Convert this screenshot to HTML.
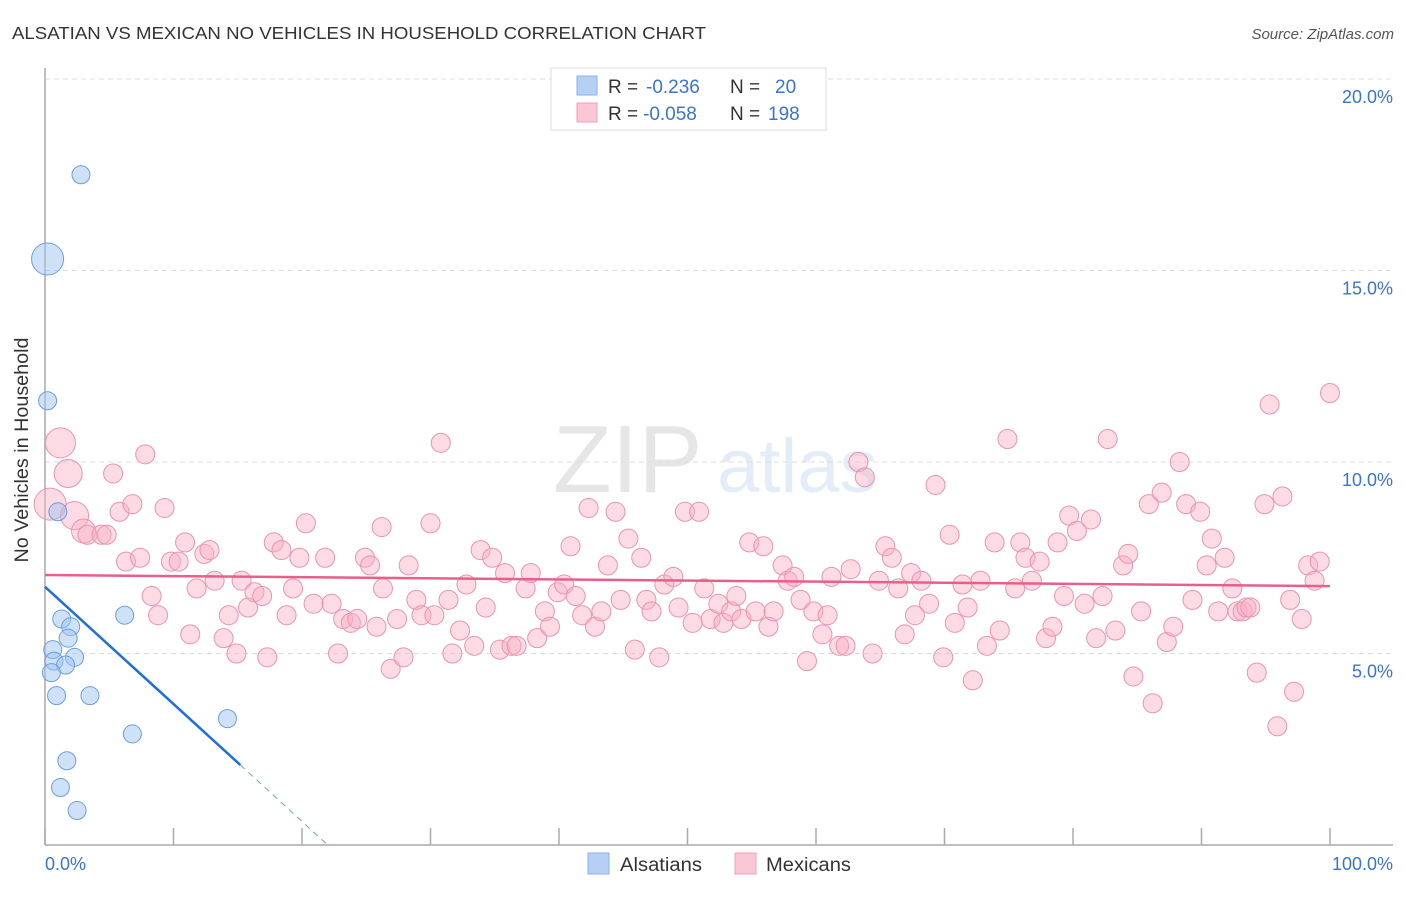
<!DOCTYPE html>
<html><head><meta charset="utf-8"><style>
body{margin:0;background:#fff;font-family:"Liberation Sans",sans-serif}
svg text{font-family:"Liberation Sans",sans-serif}
</style></head><body>
<svg id="c" width="1406" height="892" viewBox="0 0 1406 892">
<text x="12" y="39" font-size="17.5" fill="#333" textLength="694" lengthAdjust="spacingAndGlyphs">ALSATIAN VS MEXICAN NO VEHICLES IN HOUSEHOLD CORRELATION CHART</text>
<text x="1394" y="39" font-size="15" fill="#555" font-style="italic" text-anchor="end">Source: ZipAtlas.com</text>
<g opacity="0.18">
<text x="553" y="492" font-size="96" font-family="Liberation Serif,serif" fill="#777">ZIP</text>
<text x="717" y="492" font-size="76" fill="#6a9fe0">atlas</text>
</g>
<g id="grid"></g>
<g id="axes"></g>
<g id="pts"></g>
<g id="trend"></g>
<text x="34" y="456" font-size="19" fill="#333" text-anchor="middle" textLength="225" lengthAdjust="spacingAndGlyphs" transform="rotate(-90 28 456)">No Vehicles in Household</text>
<text x="45" y="870" font-size="18" fill="#3a73d0">0.0%</text>
<text x="1393" y="870" font-size="18" fill="#3a73d0" text-anchor="end">100.0%</text>
<g>
<rect x="551" y="68" width="275" height="62" fill="#fff" stroke="#ddd"/>
<rect x="577" y="76" width="20" height="19" fill="#b6d0f4" stroke="#8ab2ea"/>
<rect x="577" y="103" width="20" height="19" fill="#fbc6d6" stroke="#f0a0b8"/>
<text x="608" y="93" font-size="19" fill="#333">R = <tspan x="646" fill="#3a73d0">-0.236</tspan><tspan x="730">N =</tspan><tspan x="775" fill="#3a73d0">20</tspan></text>
<text x="608" y="120" font-size="19" fill="#333">R = <tspan x="643" fill="#3a73d0">-0.058</tspan><tspan x="730">N =</tspan><tspan x="768" fill="#3a73d0">198</tspan></text>
</g>
<g>
<rect x="588" y="853" width="21" height="21" fill="#b6d0f4" stroke="#8ab2ea"/>
<text x="620" y="871" font-size="19" fill="#333" textLength="82" lengthAdjust="spacingAndGlyphs">Alsatians</text></g>
<g>
<rect x="735" y="853" width="21" height="21" fill="#fbc6d6" stroke="#f0a0b8"/>
<text x="766" y="871" font-size="19" fill="#333" textLength="85" lengthAdjust="spacingAndGlyphs">Mexicans</text></g>
</svg>
<script>
const yTicks=[5,10,15,20];
const yTickLabels=["5.0%","10.0%","15.0%","20.0%"];
const xTicks=[0,10,20,30,40,50,60,70,80,90,100];
const blueX=[2.8,0.2,0.2,1.0,1.3,2.0,1.8,6.2,0.6,0.7,2.3,1.6,0.5,0.9,3.5,6.8,14.2,1.7,1.2,2.5];
const blueY=[17.5,15.3,11.6,8.7,5.9,5.7,5.4,6.0,5.1,4.8,4.9,4.7,4.5,3.9,3.9,2.9,3.3,2.2,1.5,0.9];
const blueSize=[9,16,9,9,9,9,9,9,9,9,9,9,9,9,9,9,9,9,9,9];
const pinkX=[1.2,1.8,0.4,2.3,3.0,3.3,4.4,4.8,5.3,5.8,6.8,7.8,9.3,6.3,7.4,8.3,8.8,9.8,10.4,10.9,11.3,11.8,12.4,12.8,13.2,13.9,14.3,14.9,15.3,15.8,16.3,16.9,17.3,17.8,18.4,18.8,19.3,19.8,20.3,20.9,22.3,22.8,21.8,23.2,23.8,24.3,24.9,25.3,25.8,26.2,26.3,26.9,27.4,27.9,28.3,28.9,29.3,30.0,30.3,30.8,31.4,31.7,32.3,32.8,33.4,33.9,34.3,34.8,35.4,35.8,36.3,36.7,37.4,37.8,38.3,38.9,39.3,39.9,40.4,40.9,41.3,41.8,42.3,42.8,43.3,43.8,44.4,44.8,45.4,45.9,46.4,46.8,47.2,47.8,48.2,48.9,49.3,49.8,50.4,50.9,51.3,51.8,52.4,52.8,53.4,53.8,54.2,54.8,55.3,55.9,56.3,56.7,57.4,57.8,58.3,58.8,59.3,59.8,60.5,60.9,61.2,61.8,62.3,62.7,63.3,63.8,64.4,64.9,65.4,65.9,66.4,66.9,67.4,67.7,68.2,68.8,69.3,69.9,70.4,70.8,71.4,71.8,72.2,72.8,73.3,73.9,74.3,74.9,75.5,75.9,76.3,76.8,77.4,77.9,78.4,78.8,79.3,79.7,80.3,80.9,81.4,81.8,82.3,82.7,83.3,83.9,84.3,84.7,85.3,85.9,86.2,86.9,87.3,87.8,88.3,88.8,89.3,89.9,90.4,90.8,91.3,91.8,92.4,92.8,93.2,93.5,93.8,94.3,94.9,95.3,95.9,96.3,96.9,97.2,97.8,98.3,98.8,99.2,100];
const pinkY=[10.5,9.7,8.9,8.6,8.2,8.1,8.1,8.1,9.7,8.7,8.9,10.2,8.8,7.4,7.5,6.5,6.0,7.4,7.4,7.9,5.5,6.7,7.6,7.7,6.9,5.4,6.0,5.0,6.9,6.2,6.6,6.5,4.9,7.9,7.7,6.0,6.7,7.5,8.4,6.3,6.3,5.0,7.5,5.9,5.8,5.9,7.5,7.3,5.7,8.3,6.7,4.6,5.9,4.9,7.3,6.4,6.0,8.4,6.0,10.5,6.4,5.0,5.6,6.8,5.2,7.7,6.2,7.5,5.1,7.1,5.2,5.2,6.7,7.1,5.4,6.1,5.7,6.6,6.8,7.8,6.5,6.0,8.8,5.7,6.1,7.3,8.7,6.4,8.0,5.1,7.5,6.4,6.1,4.9,6.8,7.0,6.2,8.7,5.8,8.7,6.7,5.9,6.3,5.8,6.1,6.5,5.9,7.9,6.1,7.8,5.7,6.1,7.3,6.9,7.0,6.4,4.8,6.1,5.5,6.0,7.0,5.2,5.2,7.2,10.0,9.6,5.0,6.9,7.8,7.5,6.7,5.5,7.1,6.0,6.9,6.3,9.4,4.9,8.1,5.8,6.8,6.2,4.3,6.9,5.2,7.9,5.6,10.6,6.7,7.9,7.5,6.9,7.4,5.4,5.7,7.9,6.5,8.6,8.2,6.3,8.5,5.4,6.5,10.6,5.6,7.3,7.6,4.4,6.1,8.9,3.7,9.2,5.3,5.7,10.0,8.9,6.4,8.7,7.3,8.0,6.1,7.5,6.7,6.1,6.1,6.2,6.2,4.5,8.9,11.5,3.1,9.1,6.4,4.0,5.9,7.3,6.9,7.4,11.8];
const pinkBig=[15,14,16,14,12];
const blueTrend=[[0,6.74],[15.2,2.09]];
const blueTrendDash=[[15.2,2.09],[22.0,0]];
const pinkTrend=[[0,7.05],[100,6.76]];
const NS="http://www.w3.org/2000/svg";
const X=v=>45+v*12.85, Y=v=>845-v*38.3;
function mk(tag,at,parent){const e=document.createElementNS(NS,tag);for(const k in at)e.setAttribute(k,at[k]);document.getElementById(parent).appendChild(e);return e;}
yTicks.forEach((t,i)=>{
 const l=mk('line',{x1:45,x2:1393,y1:Y(t),y2:Y(t),stroke:'#ddd','stroke-dasharray':'5,4'},'grid');
 
 
 const tx=mk('text',{x:1393,y:Y(t)+24,'font-size':18,fill:'#3a73d0','text-anchor':'end'},'grid');
 tx.textContent=yTickLabels[i];
 
 
});
const ax=mk('line',{x1:45,x2:45,y1:68,y2:845,stroke:'#aaa','stroke-width':1.5},'axes');


const bx=mk('line',{x1:45,x2:1393,y1:845,y2:845,stroke:'#aaa','stroke-width':1.5},'axes');


xTicks.forEach(t=>{
 const l=mk('line',{x1:X(t),x2:X(t),y1:828,y2:845,stroke:'#aaa','stroke-width':1.5},'axes');
 
 
});
pinkX.forEach((v,i)=>{
 const c=mk('circle',{cx:X(v),cy:Y(pinkY[i]),r:pinkBig[i]||9.5,fill:'rgba(248,175,198,0.45)',stroke:'#eb93b0','stroke-width':1},'pts');
 
 
});
blueX.forEach((v,i)=>{
 const c=mk('circle',{cx:X(v),cy:Y(blueY[i]),r:blueSize[i],fill:'rgba(160,196,240,0.5)',stroke:'#6a9fe0','stroke-width':1},'pts');
 
 
});
const bt=mk('line',{x1:X(blueTrend[0][0]),y1:Y(blueTrend[0][1]),x2:X(blueTrend[1][0]),y2:Y(blueTrend[1][1]),stroke:'#1f6fd8','stroke-width':2.5},'trend');


const bd=mk('line',{x1:X(blueTrendDash[0][0]),y1:Y(blueTrendDash[0][1]),x2:X(blueTrendDash[1][0]),y2:Y(blueTrendDash[1][1]),stroke:'#6a9fe0','stroke-width':1,'stroke-dasharray':'6,5'},'trend');


const pt=mk('line',{x1:X(pinkTrend[0][0]),y1:Y(pinkTrend[0][1]),x2:X(pinkTrend[1][0]),y2:Y(pinkTrend[1][1]),stroke:'#e8608a','stroke-width':2.5},'trend');


</script>
</body></html>
